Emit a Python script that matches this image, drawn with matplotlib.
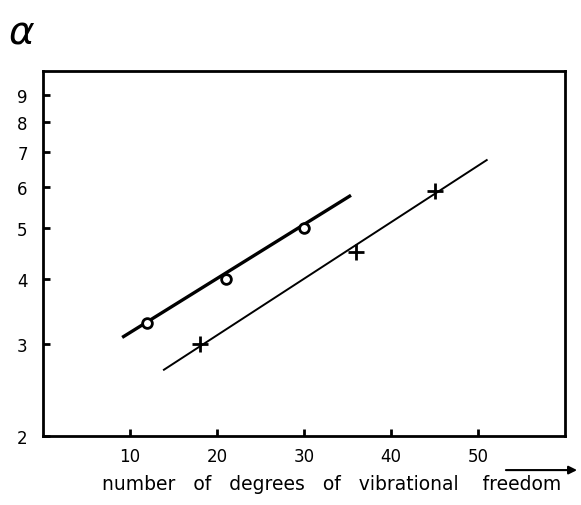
import numpy as np
import matplotlib
matplotlib.use("Agg")
import matplotlib.pyplot as plt

## Donnees

# points (cercles)
x_circ = [12, 21, 30]
y_circ = [3.3, 4.0, 5.0]
# droite des cercles
x_circ_line = [9.1, 35.4]
y_circ_line = [3.09, 5.78]

# points (croix)
x_cross = [18, 36, 45]
y_cross = [3.0, 4.5, 5.9]
# droite des croix
x_cross_line = [13.9, 51.0]
y_cross_line = [2.68, 6.75]

xticks = [10, 20, 30, 40, 50]
yticks = [2, 3, 4, 5, 6, 7, 8, 9]

## Trace

fig = plt.figure(figsize=(5.81, 5.06), dpi=100)
ax = fig.add_axes([0.074, 0.136, 0.8985, 0.722])

ax.plot(x_circ_line, y_circ_line, color="black", lw=2.4, solid_capstyle="butt", zorder=2)
ax.plot(x_circ, y_circ, "o", ms=7, mfc="white", mec="black", mew=2, zorder=3)

ax.plot(x_cross_line, y_cross_line, color="black", lw=1.4, zorder=2)
ax.plot(x_cross, y_cross, "+", ms=12, mew=2, color="black", zorder=3)

ax.set_yscale("log")
ax.set_xlim(0, 60)
ax.set_ylim(2, 10)
ax.set_xticks(xticks)
ax.set_xticklabels([str(v) for v in xticks])
ax.set_yticks(yticks)
ax.set_yticklabels([str(v) for v in yticks])
ax.yaxis.set_minor_locator(matplotlib.ticker.NullLocator())
ax.tick_params(direction="in", length=5, width=2, labelsize=12)
ax.tick_params(axis="y", pad=11)
ax.tick_params(axis="x", pad=8)
for s in ax.spines.values():
    s.set_linewidth(2)

fig.text(0.037, 0.935, r"$\alpha$", fontsize=28, ha="center", va="center")
fig.text(0.571, 0.043, "number   of   degrees   of   vibrational    freedom",
         fontsize=13.5, ha="center", va="center")
fig.add_artist(matplotlib.patches.FancyArrowPatch(
    (0.866, 0.069), (0.998, 0.069), transform=fig.transFigure,
    arrowstyle="-|>", mutation_scale=12, lw=1.5, color="black"))

fig.savefig("out.png", dpi=100)
